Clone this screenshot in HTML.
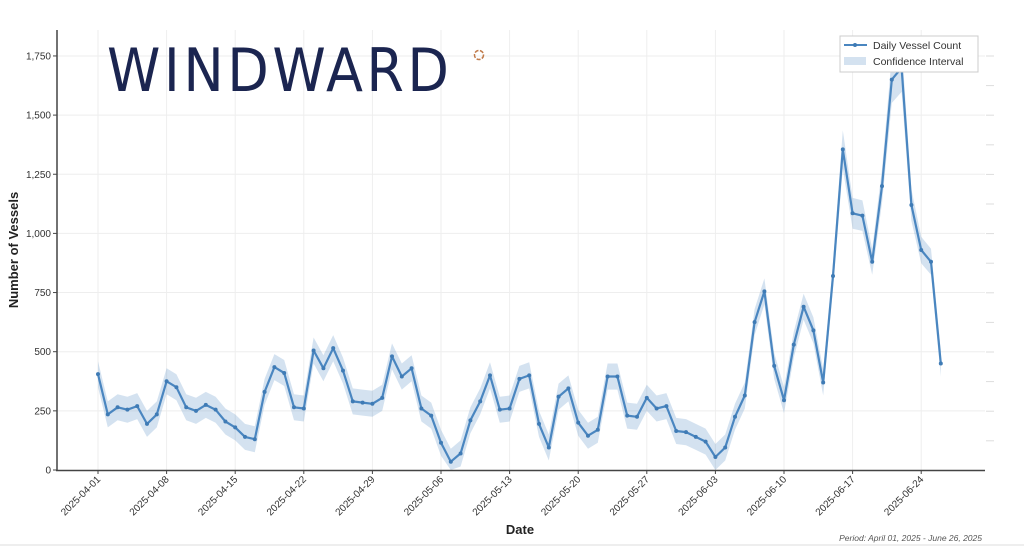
<!DOCTYPE html>
<html><head><meta charset="utf-8"><style>
html,body{margin:0;padding:0;background:#fff;}
svg{display:block;font-family:"Liberation Sans","DejaVu Sans",sans-serif;}
</style></head><body>
<svg id="s" width="1024" height="547" viewBox="0 0 1024 547" xmlns="http://www.w3.org/2000/svg">
<rect width="1024" height="547" fill="#fff"/>
<g id="grid"></g>
<path id="band" fill="#4a86c0" fill-opacity="0.24" stroke="none"/>
<polyline id="line" fill="none" stroke="#4a86c0" stroke-width="2.2" stroke-linejoin="round"/>
<g id="dots" fill="#3f7bb5"></g>
<line x1="57" y1="30" x2="57" y2="471" stroke="#444" stroke-width="1.5"/>
<line x1="56" y1="470.5" x2="985" y2="470.5" stroke="#444" stroke-width="1.5"/>
<g id="yt" font-size="10" fill="#333" text-anchor="end"></g>
<g id="xt" font-size="10" fill="#333" text-anchor="end"></g>
<text x="520" y="534" font-size="13" font-weight="bold" text-anchor="middle" fill="#222">Date</text>
<text transform="translate(18,250) rotate(-90)" font-size="13" font-weight="bold" text-anchor="middle" fill="#222">Number of Vessels</text>
<text x="107" y="91" font-size="60" fill="#1b2550" textLength="352" lengthAdjust="spacing" font-family="'DejaVu Sans Condensed','Liberation Sans Narrow',sans-serif" letter-spacing="10">WINDWARD</text>
<circle cx="479" cy="55" r="4.5" fill="none" stroke="#c07a4a" stroke-width="1.5" stroke-dasharray="4 1.5"/>
<rect x="840" y="36" width="138" height="36" fill="#fff" stroke="#ccc" stroke-width="1"/>
<line x1="844" y1="45" x2="867" y2="45" stroke="#4a86c0" stroke-width="2"/>
<circle cx="855" cy="45" r="2" fill="#3f7bb5"/>
<rect x="844" y="57" width="22" height="8" fill="#4a86c0" fill-opacity="0.24"/>
<text x="873" y="49" font-size="10.5" fill="#333">Daily Vessel Count</text>
<text x="873" y="65" font-size="10.5" fill="#333">Confidence Interval</text>
<text x="982" y="541" font-size="8.5" font-style="italic" fill="#555" text-anchor="end">Period: April 01, 2025 - June 26, 2025</text>
<line x1="0" y1="545" x2="1024" y2="545" stroke="#ddd" stroke-width="1"/>
</svg>
<script>
var v=[405,235,265,255,270,195,235,375,350,265,250,275,255,205,180,140,130,330,435,410,265,260,505,430,515,420,290,285,280,305,
480,395,430,260,230,115,35,70,210,290,400,255,260,385,400,195,95,310,345,200,145,170,395,395,230,225,305,260,270,165,160,
140,120,55,95,225,315,625,755,440,295,530,690,590,370,820,1355,1085,1075,880,1200,1650,1700,1120,930,880,450];
var NS="http://www.w3.org/2000/svg";
function X(d){return 98+d*9.80;}
function Y(val){return 470-val*0.2366;}
function el(t,a,p,txt){var e=document.createElementNS(NS,t);for(var k in a)e.setAttribute(k,a[k]);if(txt)e.textContent=txt;p.appendChild(e);return e;}
var grid=document.getElementById('grid'),yt=document.getElementById('yt'),xt=document.getElementById('xt');
var ylab=["0","250","500","750","1,000","1,250","1,500","1,750"];
for(var i=0;i<8;i++){var y=Y(i*250);
 if(i>0)el('line',{x1:57,y1:y,x2:985,y2:y,stroke:'#eee','stroke-width':1},grid);
 el('line',{x1:53,y1:y,x2:57,y2:y,stroke:'#444','stroke-width':1},grid);
 el('text',{x:51,y:y+3.5},yt,ylab[i]);}
var xl=["2025-04-01","2025-04-08","2025-04-15","2025-04-22","2025-04-29","2025-05-06","2025-05-13","2025-05-20","2025-05-27","2025-06-03","2025-06-10","2025-06-17","2025-06-24"];
for(var j=0;j<13;j++){var x=X(j*7);
 el('line',{x1:x,y1:30,x2:x,y2:470,stroke:'#eee','stroke-width':1},grid);
 el('line',{x1:x,y1:470,x2:x,y2:474,stroke:'#444','stroke-width':1},grid);
 el('text',{transform:'translate('+(x+3)+',480) rotate(-45)'},xt,xl[j]);}
for(var r=0;r<14;r++){el('line',{x1:986,y1:56+r*29.6,x2:994,y2:56+r*29.6,stroke:'#ddd','stroke-width':1},grid);}
var up=[],lo=[],pts=[];
for(var d=0;d<v.length;d++){var w=Math.max(55,v[d]*0.06);
 up.push(X(d).toFixed(1)+','+Y(v[d]+w).toFixed(1));lo.unshift(X(d).toFixed(1)+','+Y(Math.max(0,v[d]-w)).toFixed(1));
 pts.push(X(d).toFixed(1)+','+Y(v[d]).toFixed(1));
 el('circle',{cx:X(d),cy:Y(v[d]),r:2},document.getElementById('dots'));}
document.getElementById('band').setAttribute('d','M'+up.join('L')+'L'+lo.join('L')+'Z');
document.getElementById('line').setAttribute('points',pts.join(' '));
</script>
</body></html>
